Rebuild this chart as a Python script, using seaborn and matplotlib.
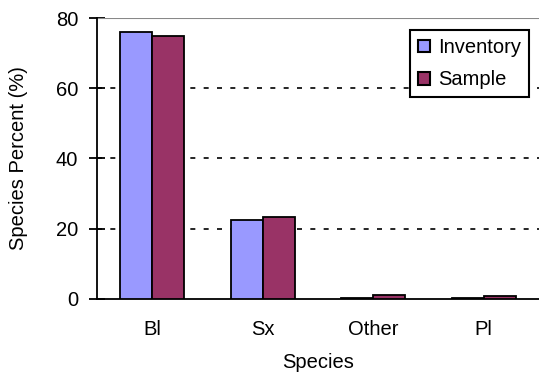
import matplotlib
matplotlib.use("Agg")
import matplotlib.pyplot as plt
import seaborn as sns
import pandas as pd

species = ["Bl", "Sx", "Other", "Pl"]
inventory = [76.1, 22.5, 0.3, 0.2]
sample = [74.9, 23.3, 1.1, 0.8]
series_names = ["Inventory", "Sample"]
colors = ["#9999FF", "#993366"]
yticks = [0, 20, 40, 60, 80]

df = pd.DataFrame({
    "Species": species * 2,
    "Percent": inventory + sample,
    "Series": [series_names[0]] * len(species) + [series_names[1]] * len(species),
})

sns.set_style("white")
plt.rcParams["font.family"] = ["Liberation Sans", "DejaVu Sans"]
plt.rcParams.update({"text.color": "black", "axes.labelcolor": "black",
                     "xtick.color": "black", "ytick.color": "black"})
FS = 14.5

fig = plt.figure(figsize=(5.39, 3.75), dpi=100)
ax = fig.add_axes([0.180, 0.2027, 0.820, 0.7493])

sns.barplot(data=df, x="Species", y="Percent", hue="Series", order=species,
            hue_order=series_names, palette=colors, width=0.58, gap=0,
            edgecolor="black", linewidth=1.3, saturation=1, ax=ax, zorder=3)

ax.set_xlim(-0.5, len(species) - 0.5)
ax.set_ylim(0, 80)
ax.set_yticks(yticks)
for v in yticks[1:-1]:
    ax.axhline(v, color="black", linestyle=(0, (3, 5)), linewidth=1.2, zorder=1)
ax.axhline(80, color="#888888", linewidth=1.5, zorder=1)

for side in ["top", "right"]:
    ax.spines[side].set_visible(False)
for side in ["left", "bottom"]:
    ax.spines[side].set_color("black")
    ax.spines[side].set_linewidth(1.3)

ax.set_xticks([i - 0.5 for i in range(len(species))], minor=True)
ax.tick_params(axis="x", which="major", length=0, labelsize=FS, pad=15)
ax.tick_params(axis="x", which="minor", length=6, width=1.3, direction="out", color="black")
ax.tick_params(axis="y", length=11, width=1.3, direction="inout", labelsize=FS, color="black", pad=8)
ax.tick_params(left=True, bottom=True)

ax.set_xlabel("Species", fontsize=FS, labelpad=10)
ax.set_ylabel("Species Percent (%)", fontsize=FS, labelpad=20)

leg = ax.legend(loc="upper right", bbox_to_anchor=(0.977, 0.957), fontsize=FS,
                frameon=True, fancybox=False, edgecolor="black", framealpha=1,
                handlelength=0.6, handleheight=0.6, handletextpad=0.4,
                labelspacing=0.65, borderpad=0.4, borderaxespad=0)
leg.set_zorder(5)
leg.get_frame().set_linewidth(1.5)
for h in leg.legend_handles:
    h.set_edgecolor("black")
    h.set_linewidth(1.5)

fig.savefig("out.png", dpi=100)
